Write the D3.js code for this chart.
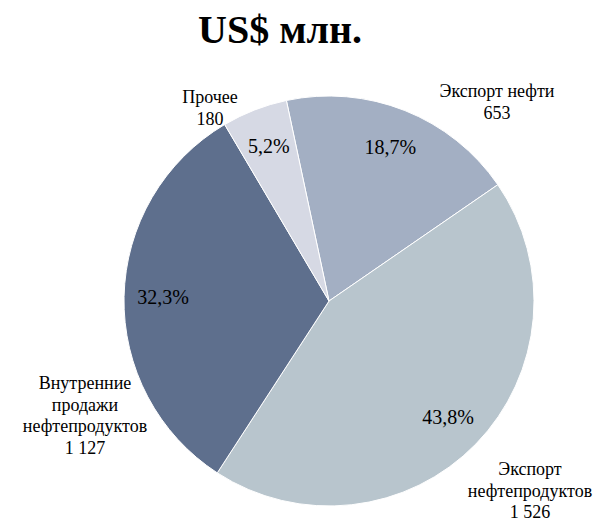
<!DOCTYPE html>
<html>
<head>
<meta charset="utf-8">
<script src="https://cdn.jsdelivr.net/npm/d3@7"></script>
</head>
<body style="margin:0">
<svg id="chart" width="594" height="520" font-family="Liberation Serif" style="font-family: 'Liberation Serif', Tinos, 'Times New Roman', serif;"></svg>
<script>
// ---- Data ----
const categories = ["Экспорт нефти", "Экспорт нефтепродуктов", "Внутренние продажи нефтепродуктов", "Прочее"];
const labelLines = [["Экспорт нефти"], ["Экспорт", "нефтепродуктов"], ["Внутренние", "продажи", "нефтепродуктов"], ["Прочее"]];
const values = [653, 1526, 1127, 180];
const valueLabels = ["653", "1 526", "1 127", "180"];
const colors = ["#A3AFC3", "#B8C5CD", "#5E6F8D", "#D6D9E4"];
const title = "US$ млн.";

// ---- Layout ----
const cx = 329, cy = 301, R = 205;
const startDeg = -12;
// outer label centers relative to pie center (x, baseline of first line)
const outerOffsets = [[168, -204], [201, 174], [-244, 88], [-119, -198]];
const lineH = 21.5;

const svg = d3.select("#chart");

svg.append("text")
  .attr("x", 280).attr("y", 43)
  .attr("text-anchor", "middle")
  .style("font", "bold 40px \"Liberation Serif\", Tinos, serif")
  .text(title);

const total = d3.sum(values);
const pie = d3.pie().sort(null).value(d => d)
  .startAngle(startDeg * Math.PI / 180)
  .endAngle(startDeg * Math.PI / 180 + 2 * Math.PI);
const arcs = pie(values);
const arc = d3.arc().innerRadius(0).outerRadius(R);
const labelArc = d3.arc().innerRadius(R * 0.81).outerRadius(R * 0.81);

const g = svg.append("g").attr("transform", `translate(${cx},${cy})`);

g.selectAll("path.slice").data(arcs).join("path")
  .attr("class", "slice")
  .attr("d", arc)
  .attr("fill", (d, i) => colors[i])
  .attr("stroke", "#fff")
  .attr("stroke-width", 1);

const fmt = v => (v * 100).toFixed(1).replace(".", ",") + "%";

g.selectAll("text.pct").data(arcs).join("text")
  .attr("class", "pct")
  .attr("text-anchor", "middle")
  .attr("x", d => labelArc.centroid(d)[0])
  .attr("y", d => labelArc.centroid(d)[1] + 7)
  .style("font", "20px \"Liberation Serif\", Tinos, serif")
  .text(d => fmt(d.value / total));

arcs.forEach((d, i) => {
  const [ox, oy] = outerOffsets[i];
  const lines = labelLines[i].concat([valueLabels[i]]);
  g.append("g").selectAll("text").data(lines).join("text")
    .attr("text-anchor", "middle")
    .attr("x", ox)
    .attr("y", (ln, k) => oy + k * lineH)
    .style("font", "18px \"Liberation Serif\", Tinos, serif")
    .text(ln => ln);
});
</script>
</body>
</html>
